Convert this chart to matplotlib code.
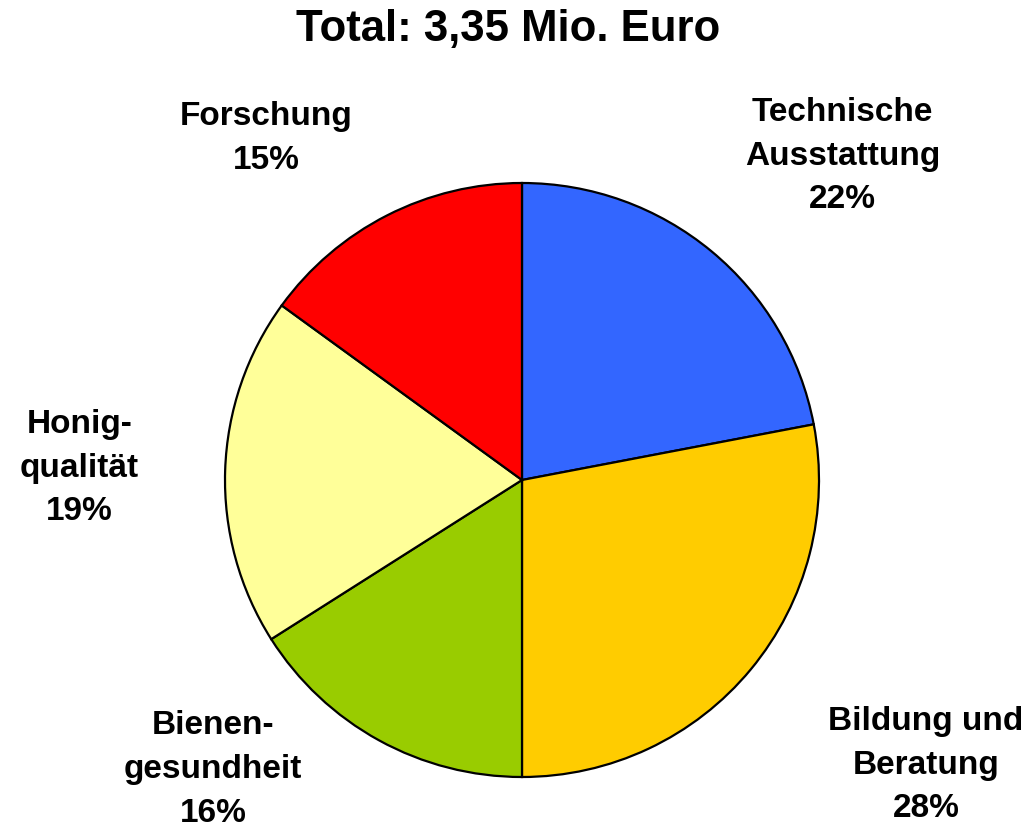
import matplotlib
matplotlib.use("Agg")
import matplotlib.pyplot as plt

# Daten
labels = ["Technische\nAusstattung", "Bildung und\nBeratung", "Bienen-\ngesundheit",
          "Honig-\nqualität", "Forschung"]
shares = [22, 28, 16, 19, 15]
colors = ["#3366FF", "#FFCC00", "#99CC00", "#FFFF99", "#FF0000"]
# Label-Positionen relativ zum Radius
label_pos = [(1.08, 1.09), (1.36, -0.96), (-1.04, -0.975), (-1.49, 0.04), (-0.86, 1.15)]
title = "Total: 3,35 Mio. Euro"

plt.rcParams['font.family'] = ['Liberation Sans', 'DejaVu Sans']

fig = plt.figure(figsize=(10.3, 8.34), dpi=100)
ax = fig.add_axes([0, 0, 1, 1])

ax.pie(shares, colors=colors, startangle=90, counterclock=False,
       wedgeprops=dict(edgecolor="black", linewidth=1.6))

for lab, val, (x, y) in zip(labels, shares, label_pos):
    ax.text(x, y, f"{lab}\n{val}%", ha="center", va="center",
            fontsize=24, fontweight="bold", linespacing=1.53)

# Kreis-Mittelpunkt bei (522, 480) px, Radius 297 px
r = 297
ax.set_xlim(-522 / r, (1030 - 522) / r)
ax.set_ylim(-(834 - 480) / r, 480 / r)
ax.set_aspect("equal")
ax.axis("off")

fig.text(508 / 1030, 1 - 30 / 834, title, ha="center", va="center",
         fontsize=31.5, fontweight="bold")

fig.savefig("out.png", dpi=100)
